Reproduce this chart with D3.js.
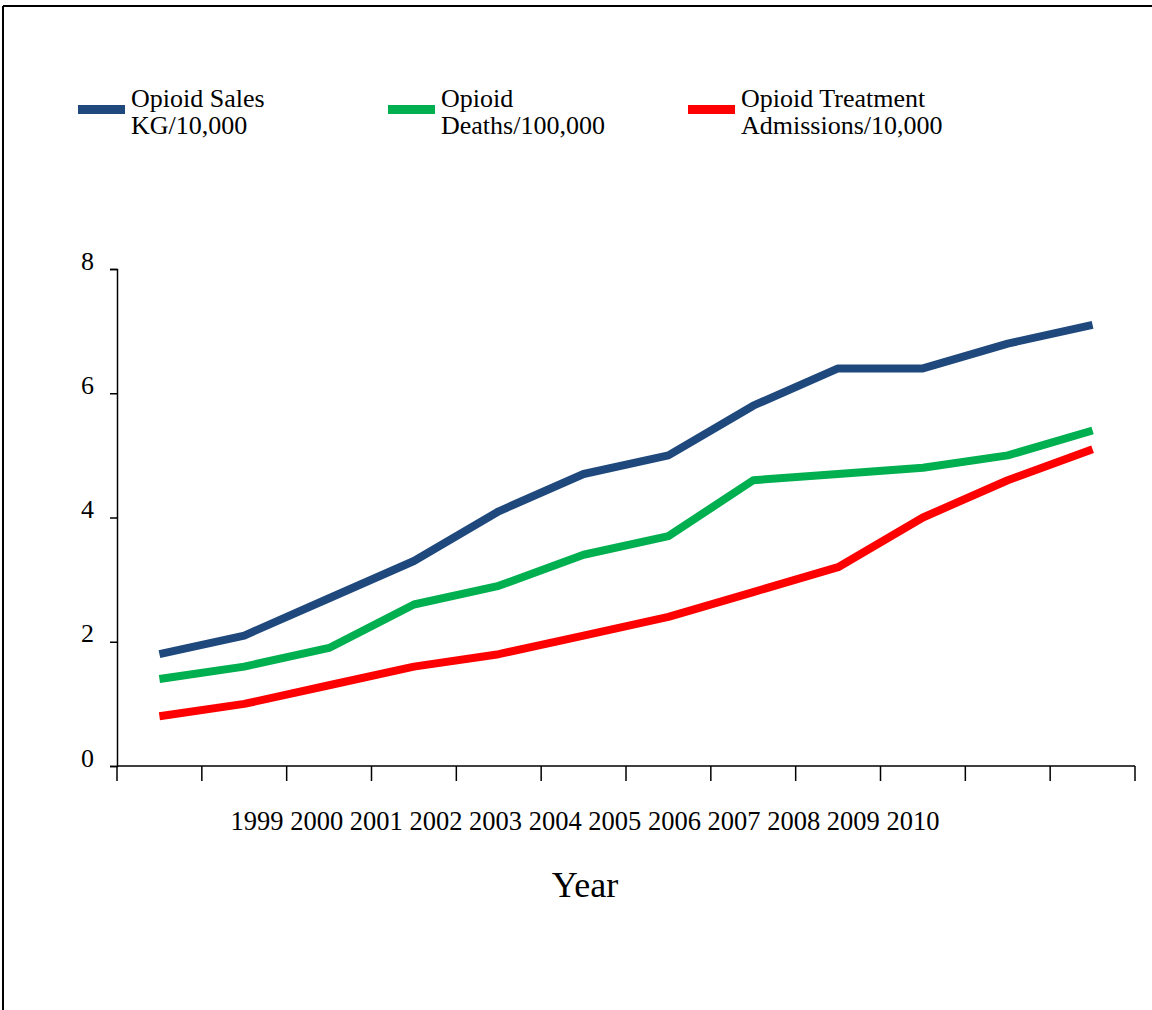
<!DOCTYPE html>
<html>
<head>
<meta charset="utf-8">
<script src="https://cdn.jsdelivr.net/npm/d3@7/dist/d3.min.js"></script>
<style>
  html, body { margin: 0; padding: 0; background: #fff; }
  svg { display: block; font-family: "Liberation Serif", "Times New Roman", serif; }
</style>
</head>
<body>
<svg id="chart" width="1152" height="1010"></svg>
<script>
// Opioid indicators by year
const years = ["1999", "2000", "2001", "2002", "2003", "2004", "2005", "2006", "2007", "2008", "2009", "2010"];
const salesKg = [1.8, 2.1, 2.7, 3.3, 4.1, 4.7, 5.0, 5.8, 6.4, 6.4, 6.8, 7.1];
const deaths = [1.4, 1.6, 1.9, 2.6, 2.9, 3.4, 3.7, 4.6, 4.7, 4.8, 5.0, 5.4];
const admissions = [0.8, 1.0, 1.3, 1.6, 1.8, 2.1, 2.4, 2.8, 3.2, 4.0, 4.6, 5.1];
const yTicks = [0, 2, 4, 6, 8];
const seriesNames = [["Opioid Sales", "KG/10,000"], ["Opioid", "Deaths/100,000"], ["Opioid Treatment", "Admissions/10,000"]];
const seriesColors = ["#1F497D", "#00B050", "#FF0000"];

const series = [salesKg, deaths, admissions];
const svg = d3.select("#chart");

// outer frame (top and left edges)
svg.append("line").attr("x1", 3).attr("x2", 1152).attr("y1", 6).attr("y2", 6)
  .attr("stroke", "#000").attr("stroke-width", 2);
svg.append("line").attr("x1", 3).attr("x2", 3).attr("y1", 6).attr("y2", 1010)
  .attr("stroke", "#000").attr("stroke-width", 2);

const plotLeft = 117, plotRight = 1135, plotTop = 269, plotBottom = 766;
const x = d3.scaleBand().domain(years).range([plotLeft, plotRight]);
const y = d3.scaleLinear().domain([0, 8]).range([plotBottom, plotTop]);

// y axis
const yAxis = svg.append("g").attr("transform", `translate(${plotLeft},0)`)
  .call(d3.axisLeft(y).tickValues(yTicks).tickSize(7).tickPadding(16).tickFormat(d3.format("d")));
yAxis.select(".domain").attr("stroke", "#000").attr("stroke-width", 1.5);
yAxis.selectAll(".tick line").attr("stroke", "#000").attr("stroke-width", 1.5);
yAxis.selectAll(".tick text").attr("font-size", 26).attr("fill", "#000")
  .attr("font-family", "Liberation Serif, Times New Roman, serif").attr("dy", "0.0em");

// x axis: ticks on band boundaries
const boundaries = years.map(d => x(d)).concat([plotRight]);
svg.append("line").attr("x1", plotLeft).attr("x2", plotRight).attr("y1", plotBottom).attr("y2", plotBottom)
  .attr("stroke", "#000").attr("stroke-width", 1.5);
svg.append("g").selectAll("line").data(boundaries).join("line")
  .attr("x1", d => d).attr("x2", d => d).attr("y1", plotBottom).attr("y2", plotBottom + 15)
  .attr("stroke", "#000").attr("stroke-width", 1.5);

// year labels set as a single row beneath the axis
svg.append("text").attr("x", 585).attr("y", 830)
  .attr("text-anchor", "middle").attr("font-size", 26.5).attr("fill", "#000")
  .text(years.join(" "));

svg.append("text").attr("x", 585).attr("y", 897).attr("text-anchor", "middle")
  .attr("font-size", 36).attr("fill", "#000").text("Year");

// series lines
const line = d3.line().x((d, i) => x(years[i]) + x.bandwidth() / 2).y(d => y(d));
svg.append("g").selectAll("path").data(series).join("path")
  .attr("d", d => line(d))
  .attr("fill", "none")
  .attr("stroke", (d, i) => seriesColors[i])
  .attr("stroke-width", 8)
  .attr("stroke-linejoin", "round");

// legend
const legendX = [78, 388, 688];
const legend = svg.append("g").selectAll("g").data(seriesNames).join("g")
  .attr("transform", (d, i) => `translate(${legendX[i]},0)`);
legend.append("rect").attr("x", 0).attr("y", 105).attr("width", 47).attr("height", 9)
  .attr("fill", (d, i) => seriesColors[i]);
legend.append("text").attr("x", 53).attr("y", 107).attr("font-size", 26).attr("fill", "#000")
  .text(d => d[0]);
legend.append("text").attr("x", 53).attr("y", 134).attr("font-size", 26).attr("fill", "#000")
  .text(d => d[1]);
</script>
</body>
</html>
